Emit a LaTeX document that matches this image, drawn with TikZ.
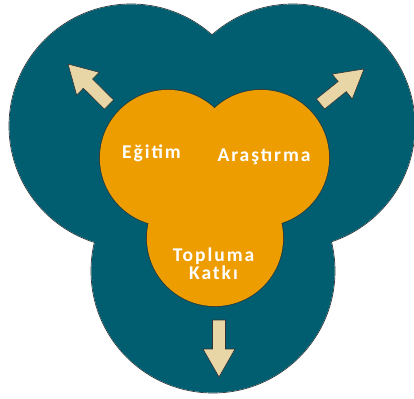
\documentclass[tikz,border=0pt]{standalone}
\usepackage{fontspec}
\setmainfont{Carlito}
\newfontfamily\labfont{Carlito}[LetterSpace=10]
\usetikzlibrary{calc}
\definecolor{tealbg}{HTML}{005E70}
\definecolor{orangec}{HTML}{EE9D00}
\definecolor{beigec}{HTML}{E8D6A6}
\definecolor{edgec}{HTML}{333333}
\tikzset{
  outer/.style={draw=edgec,line width=0.7pt},
  tealfill/.style={fill=tealbg},
  orangefill/.style={fill=orangec},
  arrowbody/.style={fill=beigec,draw=edgec,line width=0.6pt,line join=miter},
  lab/.style={text=white,font=\labfont\bfseries\fontsize{19.5}{16.5}\selectfont,inner sep=0pt,align=center}
}
\newcommand{\outarrow}[2]{%
  \path (#1) coordinate (t) (#2) coordinate (p) ($(p)!28pt!(t)$) coordinate (m);
  \draw[arrowbody] ($(t)!6.5pt!90:(p)$) -- ($(m)!6.5pt!-90:(t)$) -- ($(m)!16pt!-90:(t)$) -- (p)
     -- ($(m)!16pt!90:(t)$) -- ($(m)!6.5pt!90:(t)$) -- ($(t)!6.5pt!-90:(p)$) -- cycle;}
\begin{document}
\begin{tikzpicture}[x=1pt,y=-1pt]
\useasboundingbox (0,0) rectangle (414,398);
% outer teal circles
\coordinate (c1) at (131,126);
\coordinate (c2) at (293,126);
\coordinate (c3) at (213,271);
\foreach \c in {c1,c2,c3} \draw[outer] (\c) circle (122pt);
\foreach \c in {c1,c2,c3} \fill[tealfill] (\c) circle (121.6pt);
% inner orange circles
\coordinate (o1) at (168,158);
\coordinate (o2) at (261,158);
\coordinate (o3) at (215,238);
\foreach \c in {o1,o2,o3} \draw[outer] (\c) circle (68.5pt);
\foreach \c in {o1,o2,o3} \fill[orangefill] (\c) circle (68.1pt);
% arrows
\coordinate (a1t) at (109,104.5); \coordinate (a1p) at (68,64);
\coordinate (a2t) at (320.5,104); \coordinate (a2p) at (364,69);
\coordinate (a3t) at (219,320);  \coordinate (a3p) at (219,377);
\outarrow{a1t}{a1p}
\outarrow{a2t}{a2p}
\outarrow{a3t}{a3p}
% labels
\node[lab,anchor=base] (egitim) at (151.5,158) {Eğitim};
\node[lab,anchor=base] (arastirma) at (264,161) {Araştırma};
\node[lab,anchor=base] (katki) at (213.5,279.5) {Topluma\\Katkı};
\end{tikzpicture}
\end{document}
